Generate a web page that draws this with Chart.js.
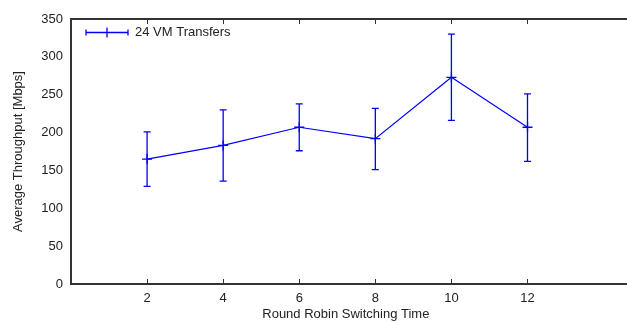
<!DOCTYPE html>
<html lang="en">
  <head>
    <meta charset="UTF-8" />
    <script src="https://cdn.jsdelivr.net/npm/chart.js@4/dist/chart.umd.min.js"></script>
    <title>Average Throughput</title>
    <style>
      html, body { margin: 0; padding: 0; background: #fff; overflow: hidden; }
      .canvas-container { position: relative; width: 627px; height: 322px; }
    </style>
  </head>
  <body>
    <div class="canvas-container">
      <canvas id="myChart"></canvas>
    </div>

    <script>
      const switchTimes = [2, 4, 6, 8, 10, 12];
      const throughput = [165, 183, 207, 192, 273, 207];
      const errLow = [129, 136, 176, 151, 216, 162];
      const errHigh = [201, 230, 238, 232, 330, 251];
      const xTicks = [2, 4, 6, 8, 10, 12];
      const seriesLabel = "24 VM Transfers";

      const blue = "#0000ff";
      const axisColor = "#333";

      // gnuplot-ish error bars, inward ticks, top border and legend
      const gnuplotBits = {
        id: "gnuplotBits",
        afterDraw(chart) {
          const c = chart.ctx;
          const xs = chart.scales.x;
          const ys = chart.scales.y;
          const area = chart.chartArea;
          c.save();

          // error bars
          c.strokeStyle = blue;
          c.lineWidth = 1.3;
          c.beginPath();
          switchTimes.forEach((t, i) => {
            const px = xs.getPixelForValue(t);
            const top = ys.getPixelForValue(errHigh[i]);
            const bot = ys.getPixelForValue(errLow[i]);
            c.moveTo(px, top);
            c.lineTo(px, bot);
            c.moveTo(px - 3.5, top);
            c.lineTo(px + 3.5, top);
            c.moveTo(px - 3.5, bot);
            c.lineTo(px + 3.5, bot);
          });
          c.stroke();

          // top border + inward x ticks
          c.strokeStyle = axisColor;
          c.lineWidth = 2;
          c.beginPath();
          c.moveTo(area.left, area.top);
          c.lineTo(chart.width, area.top);
          c.moveTo(area.left, area.bottom);
          c.lineTo(chart.width, area.bottom);
          c.stroke();
          c.lineWidth = 1;
          c.beginPath();
          xTicks.forEach((t) => {
            const px = Math.round(xs.getPixelForValue(t)) + 0.5;
            c.moveTo(px, area.top);
            c.lineTo(px, area.top + 5);
            c.moveTo(px, area.bottom);
            c.lineTo(px, area.bottom - 5);
          });
          c.stroke();

          // legend
          const ly = Math.round(area.top + 13) + 0.5;
          const lx0 = Math.round(area.left + 15);
          const lx1 = Math.round(area.left + 57);
          const lm = Math.round((lx0 + lx1) / 2);
          c.strokeStyle = blue;
          c.lineWidth = 1.3;
          c.beginPath();
          c.moveTo(lx0, ly);
          c.lineTo(lx1, ly);
          c.moveTo(lx0, ly - 3);
          c.lineTo(lx0, ly + 3);
          c.moveTo(lx1, ly - 3);
          c.lineTo(lx1, ly + 3);
          c.moveTo(lm, ly - 5);
          c.lineTo(lm, ly + 5);
          c.stroke();
          c.fillStyle = "#222";
          c.font = "13px 'Liberation Sans', Arial, sans-serif";
          c.textBaseline = "middle";
          c.textAlign = "left";
          c.fillText(seriesLabel, lx1 + 7, ly);

          c.restore();
        },
      };

      const ctx = document.getElementById("myChart").getContext("2d");
      Chart.defaults.font.family = "'Liberation Sans', Arial, sans-serif";
      Chart.defaults.font.size = 13;
      Chart.defaults.color = "#222";

      const myChart = new Chart(ctx, {
        type: "line",
        data: {
          datasets: [
            {
              label: seriesLabel,
              data: switchTimes.map((t, i) => ({ x: t, y: throughput[i] })),
              borderColor: blue,
              backgroundColor: blue,
              borderWidth: 1.2,
              pointStyle: "cross",
              pointRadius: 5,
              pointBorderWidth: 1.3,
              pointHoverRadius: 5,
              tension: 0,
            },
          ],
        },
        options: {
          responsive: true,
          maintainAspectRatio: false,
          animation: false,
          events: [],
          layout: { padding: { top: 19, right: 0, left: 0, bottom: 0 } },
          plugins: { legend: { display: false }, tooltip: { enabled: false } },
          scales: {
            x: {
              type: "linear",
              min: 0,
              max: 14.45,
              afterBuildTicks: (axis) => {
                axis.ticks = xTicks.map((v) => ({ value: v }));
              },
              afterFit: (axis) => {
                axis.height = 38;
              },
              grid: { display: false, drawTicks: false, tickLength: 0 },
              border: { display: true, color: axisColor, width: 2 },
              ticks: { padding: 7, maxRotation: 0 },
              title: {
                display: true,
                text: "Round Robin Switching Time",
                padding: { top: 0, bottom: 0 },
              },
            },
            y: {
              min: 0,
              max: 350,
              afterFit: (axis) => {
                axis.width = 71;
              },
              grid: { display: false, drawTicks: false, tickLength: 0 },
              border: { display: true, color: axisColor, width: 2 },
              ticks: { stepSize: 50, padding: 8 },
              title: {
                display: true,
                text: "Average Throughput [Mbps]",
                padding: { top: 11, bottom: 0 },
              },
            },
          },
        },
        plugins: [gnuplotBits],
      });
    </script>
  </body>
</html>
